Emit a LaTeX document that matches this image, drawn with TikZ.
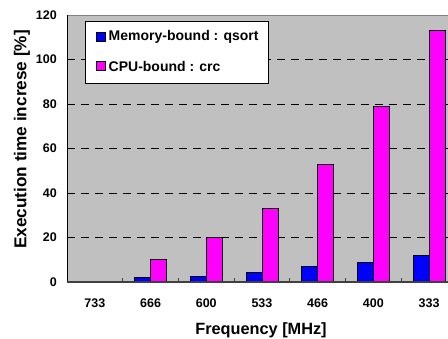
\documentclass[tikz,border=0pt]{standalone}
\usepackage{fontspec}
\setmainfont{Liberation Sans}
\begin{document}
\begin{tikzpicture}[x=1pt,y=-1pt,
  grid/.style={black, line width=0.6pt, dash pattern=on 8pt off 6pt},
  barblue/.style={fill={rgb,255:red,0;green,0;blue,255}, draw=black, line width=0.8pt},
  barmag/.style={fill={rgb,255:red,255;green,0;blue,255}, draw=black, line width=0.8pt},
  ticklab/.style={font=\fontsize{12.5}{14}\selectfont\bfseries, inner sep=0pt},
  axtitle/.style={font=\fontsize{16.3}{18}\selectfont\bfseries, inner sep=0pt},
  legtext/.style={font=\fontsize{14}{16}\selectfont\bfseries, inner sep=0pt, anchor=west},
  legkey/.style={draw=black, line width=0.6pt, minimum size=9pt, inner sep=0pt}]
\useasboundingbox (0,0) rectangle (448,339);
\fill[white] (0,0) rectangle (448,339);
% plot area
\fill[fill={rgb,255:red,192;green,192;blue,192}] (67,15) rectangle (448,282);
\foreach \v in {20,40,60,80,100}{
  \draw[grid] (67,{282-2.225*\v}) -- (448,{282-2.225*\v});
}
\draw[gray, line width=0.8pt] (67,15) -- (448,15);
% bars
\def\cw{55.7}
\foreach \i/\b/\m in {0/0/0,1/2/10,2/2.5/20,3/4.5/33,4/7/53,5/9/79,6/12/113}{
  \pgfmathsetmacro\c{67+\cw*(\i+0.5)}
  \ifdim\b pt>0pt
    \draw[barblue] ({\c-16},282) rectangle (\c,{282-2.225*\b});
  \fi
  \ifdim\m pt>0pt
    \draw[barmag] (\c,282) rectangle ({\c+16},{282-2.225*\m});
  \fi
}
% axes
\draw[black, line width=0.9pt] (67,15) -- (67,282);
\draw[black!75, line width=1.5pt] (67,282) -- (448,282);
\foreach \i in {1,...,6}{
  \draw[black!75, line width=0.9pt] ({67+\cw*\i},282) -- ({67+\cw*\i},278);
}
% tick labels
\foreach \v in {0,20,...,120}{
  \node[ticklab, anchor=east] (y\v) at (57,{282-2.225*\v}) {\v};
}
\foreach \i/\f in {0/733,1/666,2/600,3/533,4/466,5/400,6/333}{
  \node[ticklab] (x\f) at ({67+\cw*(\i+0.5)},303) {\f};
}
\node[axtitle] (xt) at (261,330) {Frequency [MHz]};
\node[axtitle, font=\fontsize{17.2}{19}\selectfont\bfseries, rotate=90] (yt) at (22,139.5) {Execution time increse [\%]};
% legend
\draw[fill=white, draw=black, line width=0.7pt] (85,21) rectangle (268,83);
\node[legkey, fill={rgb,255:red,0;green,0;blue,255}] (k1) at (100.5,37) {};
\node[legkey, fill={rgb,255:red,255;green,0;blue,255}] (k2) at (100.5,66) {};
\node[legtext] (l1) at (108.5,37) {Memory-bound : qsort};
\node[legtext] (l2) at (108.5,66) {CPU-bound : crc};
\end{tikzpicture}
\end{document}
